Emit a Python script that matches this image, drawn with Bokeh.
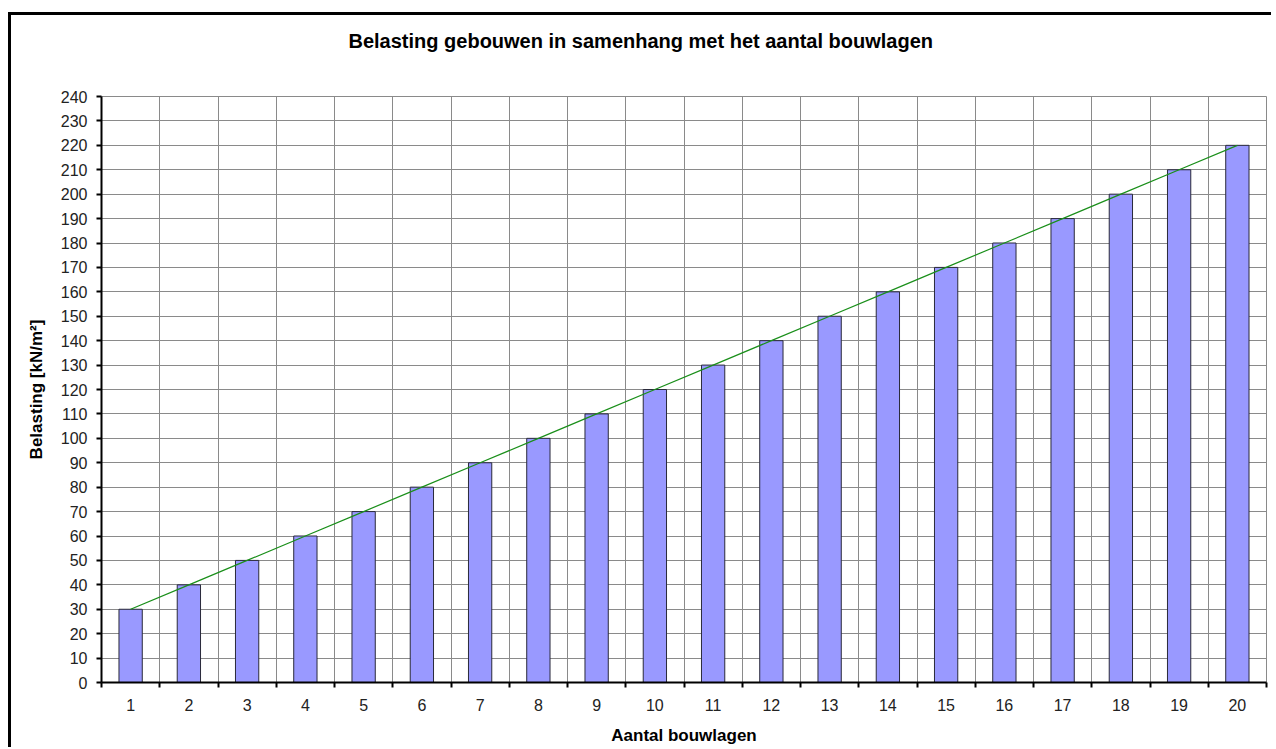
from bokeh.plotting import figure
from bokeh.models import Range1d, FixedTicker, ColumnDataSource, Title
from bokeh.embed import file_html
from bokeh.resources import INLINE

# ---- data ----
bouwlagen = list(range(1, 21))
belasting = [30, 40, 50, 60, 70, 80, 90, 100, 110, 120,
             130, 140, 150, 160, 170, 180, 190, 200, 210, 220]
y_ticks = list(range(0, 250, 10))
title_text = "Belasting gebouwen in samenhang met het aantal bouwlagen"
x_label = "Aantal bouwlagen"
y_label = "Belasting [kN/m²]"

FONT = "Liberation Sans"

p = figure(
    frame_width=1165, frame_height=586,
    min_border_left=90, min_border_right=5, min_border_top=81, min_border_bottom=10,
    x_range=Range1d(0.5, 20.5), y_range=Range1d(0, 240),
    output_backend="svg", toolbar_location=None,
    background_fill_color="white", border_fill_color="white",
    styles={"border-left": "3px solid #000000", "border-top": "3px solid #000000",
            "margin-left": "8px", "margin-top": "12px"},
)
p.title.text = ""
p.title.visible = False

# spacer between frame and title, then the title further out
p.add_layout(Title(text=" ", text_font_size="10px", standoff=27), "above")
p.add_layout(Title(text=title_text, align="left", offset=247, standoff=10,
                   text_font=FONT, text_font_style="bold", text_font_size="20px",
                   text_color="black"), "above")

src = ColumnDataSource(dict(x=bouwlagen, y=belasting))

# grid
boundaries = [i + 0.5 for i in range(0, 21)]
p.xgrid.ticker = FixedTicker(ticks=boundaries)
p.ygrid.ticker = FixedTicker(ticks=y_ticks)
for g in (p.xgrid, p.ygrid):
    g.grid_line_color = "#8a8a8a"
    g.grid_line_width = 1
p.outline_line_color = "#8a8a8a"
p.outline_line_width = 1

# bars
p.vbar(x="x", top="y", width=0.4, bottom=0, source=src,
       fill_color="#9999FF", line_color="#2a2a3a", line_width=1)

# trend line
p.line(x="x", y="y", source=src, line_color="#1a8f1a", line_width=1.2)

# x axis
xa = p.xaxis[0]
xa.ticker = FixedTicker(ticks=bouwlagen, minor_ticks=boundaries)
xa.major_tick_line_color = None
xa.major_tick_out = 0
xa.major_tick_in = 0
xa.minor_tick_line_color = "black"
xa.minor_tick_line_width = 2
xa.minor_tick_out = 5
xa.minor_tick_in = 0
xa.axis_line_color = "black"
xa.axis_line_width = 2
xa.major_label_text_font = FONT
xa.major_label_text_font_size = "16px"
xa.major_label_text_color = "#222222"
xa.major_label_standoff = 11
xa.axis_label = x_label
xa.axis_label_text_font = FONT
xa.axis_label_text_font_style = "bold"
xa.axis_label_text_font_size = "17px"
xa.axis_label_text_color = "black"
xa.axis_label_standoff = 12

# y axis
ya = p.yaxis[0]
ya.ticker = FixedTicker(ticks=y_ticks)
ya.minor_tick_line_color = None
ya.major_tick_line_color = "black"
ya.major_tick_line_width = 2
ya.major_tick_out = 5
ya.major_tick_in = 0
ya.axis_line_color = "black"
ya.axis_line_width = 2
ya.major_label_text_font = FONT
ya.major_label_text_font_size = "16px"
ya.major_label_text_color = "#222222"
ya.major_label_standoff = 9
ya.axis_label = y_label
ya.axis_label_text_font = FONT
ya.axis_label_text_font_style = "bold"
ya.axis_label_text_font_size = "17px"
ya.axis_label_text_color = "black"
ya.axis_label_standoff = 12

open("out.html", "w").write(file_html(p, INLINE))
